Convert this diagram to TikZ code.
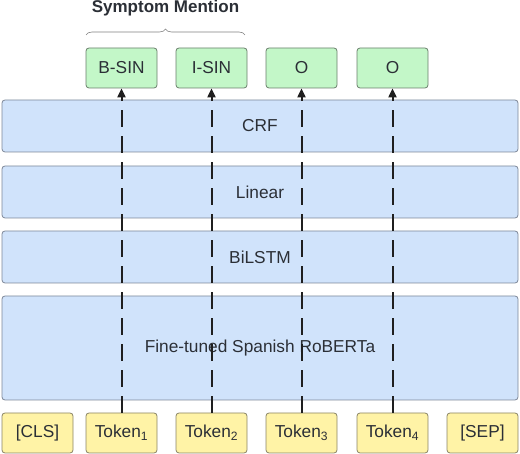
\documentclass[tikz,border=0pt]{standalone}
\usepackage{fontspec}
\setmainfont{Liberation Sans}
\usetikzlibrary{arrows.meta,decorations.pathreplacing}
\definecolor{gfill}{HTML}{C3F7C8}
\definecolor{gline}{HTML}{6A7F6C}
\definecolor{yfill}{HTML}{FFF3A6}
\definecolor{yline}{HTML}{8A8466}
\definecolor{bfill}{HTML}{D0E3FB}
\definecolor{bline}{HTML}{7D8898}
\definecolor{txt}{HTML}{2B2F36}
\tikzset{
  box/.style={rectangle, rounded corners=3pt, line width=0.8pt, minimum width=71pt, minimum height=40pt, inner sep=0pt, text=txt, font=\fontsize{17.3}{19}\selectfont},
  labelbox/.style={box, fill=gfill, draw=gline},
  tokbox/.style={box, fill=yfill, draw=yline},
  layer/.style={box, fill=bfill, draw=bline, minimum width=516pt},
  flow/.style={draw=black!88, line width=2pt, dash pattern=on 17pt off 9pt, -{Triangle[length=9pt,width=8pt]}},
}
\begin{document}
\begin{tikzpicture}[x=1pt,y=-1pt]
\useasboundingbox (0,0) rectangle (520,454);
% layers
\node[layer, minimum height=52pt] (crf) at (260,126) {CRF};
\node[layer, minimum height=52pt] (lin) at (260,192) {Linear};
\node[layer, minimum height=52pt] (bil) at (260,257) {BiLSTM};
\node[layer, minimum height=104pt] (rob) at (260,348) {Fine-tuned Spanish RoBERTa};
% output labels
\node[labelbox] (l1) at (121.5,68) {B-SIN};
\node[labelbox] (l2) at (211.5,68) {I-SIN};
\node[labelbox] (l3) at (301.5,68) {O};
\node[labelbox] (l4) at (392.5,68) {O};
% tokens
\node[tokbox] (cls) at (37.5,433) {[CLS]};
\node[tokbox] (t1) at (121.5,433) {Token\textsubscript{1}};
\node[tokbox] (t2) at (211.5,433) {Token\textsubscript{2}};
\node[tokbox] (t3) at (301.5,433) {Token\textsubscript{3}};
\node[tokbox] (t4) at (392.5,433) {Token\textsubscript{4}};
\node[tokbox] (sep) at (482.5,433) {[SEP]};
% flows
\draw[flow] (t1.north) -- (l1.south);
\draw[flow] (t2.north) -- (l2.south);
\draw[flow] (t3.north) -- (l3.south);
\draw[flow] (t4.north) -- (l4.south);
% brace and title
\coordinate (bl) at (86,35);
\coordinate (br) at (245,35);
\draw[gray, line width=0.6pt, decorate, decoration={brace, amplitude=6pt}] (bl) -- (br);
\node[text=txt, font=\fontsize{17}{19}\selectfont\bfseries] (title) at (165.5,8.5) {Symptom Mention};
\end{tikzpicture}
\end{document}
